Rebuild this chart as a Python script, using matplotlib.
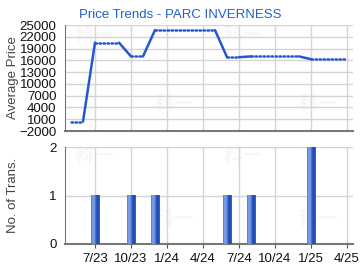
import numpy as np
import matplotlib.pyplot as plt
from matplotlib.colors import LinearSegmentedColormap

plt.rcParams['font.family'] = ['Liberation Sans', 'DejaVu Sans']

# months counted from Jan 2023 (0 = 1/23)
meses = [4, 5, 6, 7, 8, 9, 10, 11, 12, 13, 14, 15, 16, 17, 18, 19, 20, 21, 22, 23, 24, 25, 26, 27]
precios = [400, 400, 20500, 20500, 20500, 17000, 17000, 23700, 23700, 23700, 23700, 23700, 23700,
           16800, 16800, 17000, 17000, 17000, 17000, 17000, 16300, 16300, 16300, 16300]

meses_trans = [6, 9, 11, 17, 19, 24]
num_trans = [1, 1, 1, 1, 1, 2]

tick_pos = [6, 9, 12, 15, 18, 21, 24, 27]
tick_lbl = ['7/23', '10/23', '1/24', '4/24', '7/24', '10/24', '1/25', '4/25']

azul = '#2458d0'
gris = '#d4d4d4'

fig = plt.figure(figsize=(3.6, 2.7), dpi=100)
ax1 = fig.add_axes([65/360, 1-131/270, 288/360, 106/270])
ax2 = fig.add_axes([65/360, 1-244/270, 288/360, 97/270])

# linea: punteada si el precio no cambia, continua si cambia
for i in range(len(meses)-1):
    x = meses[i:i+2]
    y = precios[i:i+2]
    if y[0] == y[1]:
        ax1.plot(x, y, color=azul, lw=1.8, ls=(0, (0.6, 1.0)), dash_capstyle='round')
    else:
        ax1.plot(x, y, color=azul, lw=1.8, solid_capstyle='round')

ax1.set_xlim(3.5, 27.5)
ax1.set_ylim(-2000, 25000)
ax1.set_yticks(range(-2000, 25001, 3000))
ax1.set_xticks(tick_pos)
ax1.set_xticklabels([])
ax1.set_ylabel('Average Price', fontsize=9.5, color='#444444')
ax1.yaxis.set_label_coords(-46/288, 0.5)

# barras con degradado
cmap = LinearSegmentedColormap.from_list('barra', ['#4e78d0', '#86a6e4', '#6d92dc', '#2a58c4', '#1c46b0', '#3d68cc'])
grad = np.linspace(0, 1, 32).reshape(1, -1)
ancho = 0.7
for m, n in zip(meses_trans, num_trans):
    ax2.imshow(grad, cmap=cmap, aspect='auto', extent=[m-ancho/2, m+ancho/2, 0, n], zorder=3)

ax2.set_xlim(3.5, 27.5)
ax2.set_ylim(0, 2)
ax2.set_yticks([0, 1, 2])
ax2.set_xticks(tick_pos)
ax2.set_xticklabels(tick_lbl)
ax2.set_ylabel('No. of Trans.', fontsize=9.5, color='#444444')
ax2.yaxis.set_label_coords(-46/288, 0.5)

for ax in (ax1, ax2):
    ax.grid(True, color=gris, lw=1)
    ax.set_axisbelow(True)
    ax.spines['top'].set_visible(False)
    ax.spines['right'].set_visible(False)
    ax.spines['left'].set_color('#777777')
    ax.spines['bottom'].set_color('#777777')
    ax.spines['bottom'].set_linewidth(1.5)
    ax.tick_params(axis='y', length=0, pad=6, labelsize=9.5, labelcolor='#111111')
    ax.tick_params(axis='x', length=3, color='#555555', labelsize=9.5, labelcolor='#111111')
    # marca de agua
    for wx, wy in [(0.1, 0.9), (0.38, 0.25), (0.62, 0.9), (0.88, 0.25)]:
        ax.text(wx, wy, '科一', transform=ax.transAxes, fontsize=14, color='#000000', alpha=0.03,
                ha='center', va='center', family=['Noto Sans CJK SC'], fontweight='bold', zorder=0)

ax1.tick_params(axis='x', length=0)

fig.text(0.5, 1-15/270, 'Price Trends - PARC INVERNESS', ha='center', va='center',
         fontsize=9.5, color='#2060d0')

fig.savefig('out.png', dpi=100)
